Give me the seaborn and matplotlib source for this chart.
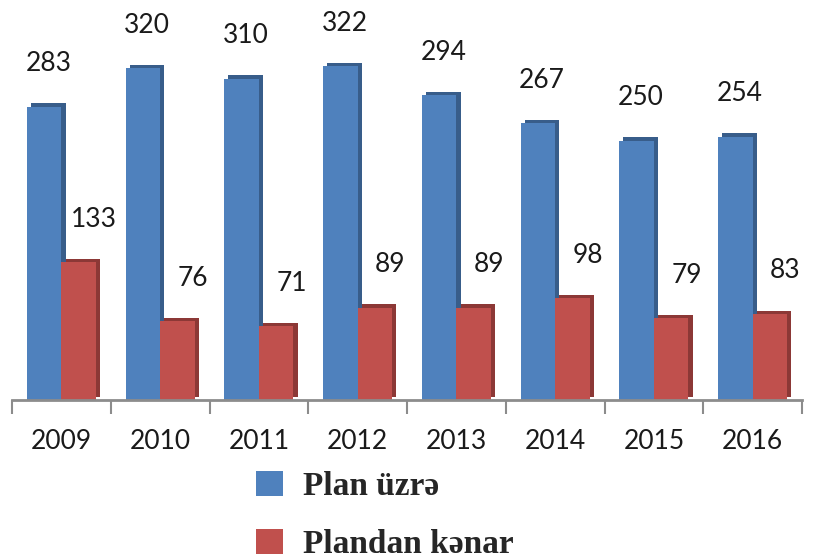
import matplotlib
matplotlib.use("Agg")
import matplotlib.pyplot as plt
import matplotlib.patheffects as pe
import seaborn as sns
import pandas as pd
import numpy as np

years = ["2009", "2010", "2011", "2012", "2013", "2014", "2015", "2016"]
plan = [283, 320, 310, 322, 294, 267, 250, 254]
unplanned = [133, 76, 71, 89, 89, 98, 79, 83]
series_names = ["Plan üzrə", "Plandan kənar"]
colors = ["#4F81BD", "#C0504D"]
side_colors = ["#385D8A", "#8C3836"]

df = pd.DataFrame({
    "year": years * 2,
    "value": plan + unplanned,
    "series": [series_names[0]] * len(years) + [series_names[1]] * len(years),
})

sns.set_theme(style="white")
plt.rcParams["font.family"] = ["Lato", "DejaVu Sans"]

fig = plt.figure(figsize=(8.21, 5.55), dpi=100)
ax = fig.add_axes([12 / 821, 155 / 555, 790 / 821, 400 / 555])

sns.barplot(data=df, x="year", y="value", hue="series", palette=colors,
            width=0.7, gap=0, saturation=1, ax=ax, legend=True, linewidth=0)

handles, labels = ax.get_legend_handles_labels()
ax.get_legend().remove()

for ci, cont in enumerate(ax.containers):
    for bar in cont:
        bar.set_path_effects([
            pe.SimplePatchShadow(offset=(3, 2.5), shadow_rgbFace=side_colors[ci], alpha=1.0),
            pe.Normal(),
        ])
    xoff = 3 if ci == 0 else 11
    for bar in cont:
        h = bar.get_height()
        ax.annotate(f"{int(round(h))}", (bar.get_x() + bar.get_width() / 2, h),
                    xytext=(xoff, 31), textcoords="offset points",
                    ha="center", va="center", fontsize=19, color="#1a1a1a")

ax.set_xlim(-0.5, 7.5)
ax.set_ylim(0, 386)
ax.set_xlabel("")
ax.set_ylabel("")
ax.set_yticks([])
for s in ["left", "top", "right"]:
    ax.spines[s].set_visible(False)
ax.spines["bottom"].set_color("#8c8c8c")
ax.spines["bottom"].set_linewidth(2)

ax.set_xticks(np.arange(len(years)))
ax.set_xticklabels(years, fontsize=19, color="#1a1a1a")
ax.tick_params(axis="x", which="major", length=0, pad=21)
ax.set_xticks(np.arange(-0.5, len(years)), minor=True)
ax.tick_params(axis="x", which="minor", length=10, width=1.5, color="#8c8c8c", bottom=True)

fig.legend(handles, labels, loc="upper left", bbox_to_anchor=(256 / 821, 1 - 471 / 555),
           frameon=False, borderpad=0, borderaxespad=0, handlelength=0.82, handleheight=0.78,
           handletextpad=0.6, labelspacing=0.8,
           prop={"family": "Liberation Serif", "weight": "bold", "size": 24})

fig.savefig("out.png", dpi=100)
